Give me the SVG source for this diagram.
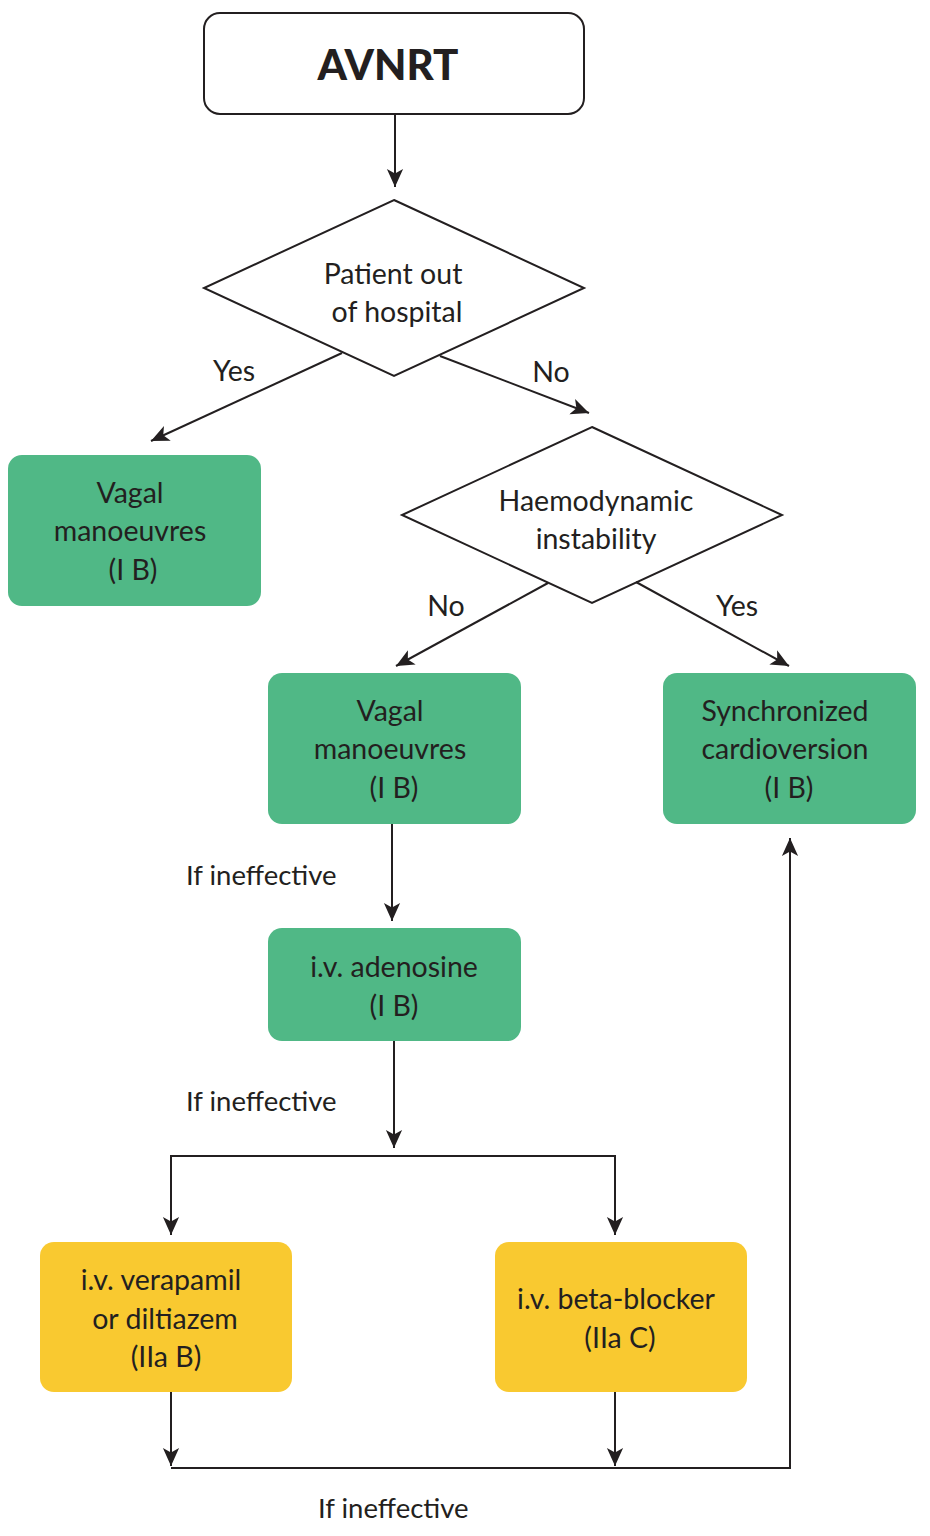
<svg xmlns="http://www.w3.org/2000/svg" width="930" height="1536" viewBox="0 0 930 1536">
<defs>
<style>
.t{font-family:Lato,"Open Sans","Liberation Sans",sans-serif;font-size:28.5px;fill:#231f20;text-anchor:middle}
.l{font-family:Lato,"Open Sans","Liberation Sans",sans-serif;font-size:27.5px;fill:#231f20}
.g{fill:#50b886}
.y{fill:#f9c930}
.c{stroke:#231f20;stroke-width:2;fill:none}
</style>
<marker id="a" viewBox="0 0 10 10" refX="10" refY="5" markerWidth="18" markerHeight="18" markerUnits="userSpaceOnUse" orient="auto">
<path d="M0,0.5 L10,5 L0,9.5 L2.5,5 Z" fill="#231f20"/>
</marker>
</defs>
<rect width="930" height="1536" fill="#fff"/>
<g id="avnrt">
<rect x="204" y="13" width="380" height="101" rx="16" fill="#fff" stroke="#231f20" stroke-width="2"/>
<text x="388" y="80" class="t" style="font-weight:900;font-size:42px">AVNRT</text>
</g>
<g id="d1">
<polygon points="394,200 584,288 394,376 204,288" fill="#fff" stroke="#231f20" stroke-width="2"/>
<text x="393" y="284" class="t">Patient out</text>
<text x="397" y="322" class="t">of hospital</text>
</g>
<g id="vagal1">
<rect x="8" y="455" width="253" height="151" rx="14" class="g"/>
<text x="130" y="503" class="t">Vagal</text>
<text x="130" y="541" class="t">manoeuvres</text>
<text x="133" y="580" class="t">(I B)</text>
</g>
<g id="d2">
<polygon points="592,427 782,515 592,603 402,515" fill="#fff" stroke="#231f20" stroke-width="2"/>
<text x="596" y="511" class="t">Haemodynamic</text>
<text x="596" y="549" class="t">instability</text>
</g>
<g id="vagal2">
<rect x="268" y="673" width="253" height="151" rx="14" class="g"/>
<text x="390" y="721" class="t">Vagal</text>
<text x="390" y="759" class="t">manoeuvres</text>
<text x="394" y="798" class="t">(I B)</text>
</g>
<g id="cardio">
<rect x="663" y="673" width="253" height="151" rx="14" class="g"/>
<text x="785" y="721" class="t">Synchronized</text>
<text x="785" y="759" class="t">cardioversion</text>
<text x="789" y="798" class="t">(I B)</text>
</g>
<g id="adenosine">
<rect x="268" y="928" width="253" height="113" rx="14" class="g"/>
<text x="394" y="977" class="t">i.v. adenosine</text>
<text x="394" y="1016" class="t">(I B)</text>
</g>
<g id="verapamil">
<rect x="40" y="1242" width="252" height="150" rx="14" class="y"/>
<text x="161" y="1290" class="t">i.v. verapamil</text>
<text x="165" y="1329" class="t">or diltiazem</text>
<text x="166" y="1367" class="t">(IIa B)</text>
</g>
<g id="beta">
<rect x="495" y="1242" width="252" height="150" rx="14" class="y"/>
<text x="616" y="1309" class="t">i.v. beta-blocker</text>
<text x="620" y="1348" class="t">(IIa C)</text>
</g>
<g id="connectors">
<line x1="395" y1="114" x2="395" y2="187" class="c" marker-end="url(#a)"/>
<line x1="342" y1="353" x2="151" y2="441" class="c" marker-end="url(#a)"/>
<line x1="440" y1="356" x2="589" y2="413" class="c" marker-end="url(#a)"/>
<line x1="548" y1="583" x2="396" y2="666" class="c" marker-end="url(#a)"/>
<line x1="636" y1="582" x2="789" y2="666" class="c" marker-end="url(#a)"/>
<line x1="392" y1="824" x2="392" y2="921" class="c" marker-end="url(#a)"/>
<line x1="394" y1="1041" x2="394" y2="1148" class="c" marker-end="url(#a)"/>
<polyline points="171,1233 171,1156 615,1156 615,1233" class="c"/>
<line x1="171" y1="1200" x2="171" y2="1235" class="c" marker-end="url(#a)"/>
<line x1="615" y1="1200" x2="615" y2="1235" class="c" marker-end="url(#a)"/>
<line x1="171" y1="1392" x2="171" y2="1466" class="c" marker-end="url(#a)"/>
<line x1="615" y1="1392" x2="615" y2="1466" class="c" marker-end="url(#a)"/>
<polyline points="171,1468 790,1468 790,838" class="c" marker-end="url(#a)"/>
</g>
<g id="labels">
<text x="234" y="381" class="t">Yes</text>
<text x="551" y="382" class="t">No</text>
<text x="446" y="616" class="t">No</text>
<text x="737" y="616" class="t">Yes</text>
<text x="186" y="885" class="l">If ineffective</text>
<text x="186" y="1111" class="l">If ineffective</text>
<text x="318" y="1518" class="l">If ineffective</text>
</g>
</svg>
